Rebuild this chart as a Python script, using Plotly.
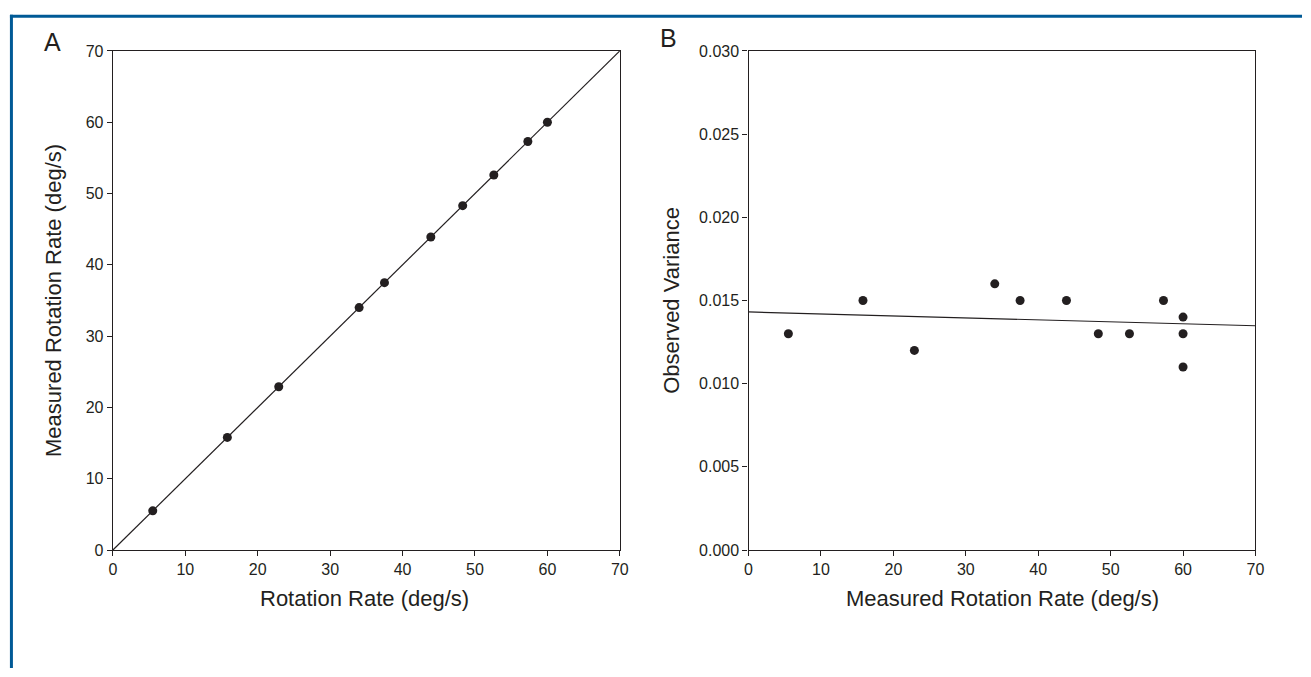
import plotly.graph_objects as go

W, H = 1311, 677

# Panel A data
rate_set = [5.5, 15.8, 22.9, 34.0, 37.5, 43.9, 48.3, 52.6, 57.3, 60.0]
rate_measured = [5.5, 15.8, 22.9, 34.0, 37.5, 43.9, 48.3, 52.6, 57.3, 60.0]
identity_x = [0, 70]
identity_y = [0, 70]

# Panel B data
meas_rate = [5.5, 15.8, 22.9, 34.0, 37.5, 43.9, 48.3, 52.6, 57.3, 60.0, 60.0, 60.0]
obs_var = [0.013, 0.015, 0.012, 0.016, 0.015, 0.015, 0.013, 0.013, 0.015, 0.014, 0.013, 0.011]
fit_x = [0, 70]
fit_y = [0.01431, 0.01348]

x_ticks = [0, 10, 20, 30, 40, 50, 60, 70]
yA_ticks = [0, 10, 20, 30, 40, 50, 60, 70]
yB_ticks = [0.000, 0.005, 0.010, 0.015, 0.020, 0.025, 0.030]

INK = "#231f20"
FONT = "Arial, Liberation Sans, Helvetica, sans-serif"

fig = go.Figure()
fig.add_trace(go.Scatter(x=identity_x, y=identity_y, mode="lines",
                         line=dict(color=INK, width=1.2), xaxis="x", yaxis="y",
                         showlegend=False, hoverinfo="skip"))
fig.add_trace(go.Scatter(x=rate_set, y=rate_measured, mode="markers",
                         marker=dict(color=INK, size=9), xaxis="x", yaxis="y",
                         showlegend=False))
fig.add_trace(go.Scatter(x=fit_x, y=fit_y, mode="lines",
                         line=dict(color=INK, width=1.2), xaxis="x2", yaxis="y2",
                         showlegend=False, hoverinfo="skip"))
fig.add_trace(go.Scatter(x=meas_rate, y=obs_var, mode="markers",
                         marker=dict(color=INK, size=9), xaxis="x2", yaxis="y2",
                         showlegend=False))

xa = (110 / W, 622 / W)
xb = (752 / W, 1264 / W)
yd = (1 - 556 / H, 1 - 44 / H)

axis_common = dict(showgrid=False, zeroline=False, showline=True, linecolor=INK,
                   linewidth=1.4, mirror=True, ticks="outside", ticklen=5,
                   tickwidth=1.2, tickcolor=INK,
                   tickfont=dict(family=FONT, size=16, color=INK))

fig.update_layout(
    width=W, height=H,
    margin=dict(l=0, r=0, t=0, b=0),
    paper_bgcolor="white", plot_bgcolor="white",
    font=dict(family=FONT, color=INK),
    xaxis=dict(domain=xa, range=[0, 70], tickvals=x_ticks, anchor="y", **axis_common),
    yaxis=dict(domain=yd, range=[0, 70], tickvals=yA_ticks, anchor="x", **axis_common),
    xaxis2=dict(domain=xb, range=[0, 70], tickvals=x_ticks, anchor="y2", **axis_common),
    yaxis2=dict(domain=yd, range=[0, 0.030], tickvals=yB_ticks, tickformat=".3f",
                anchor="x2", **axis_common),
)

def ann(text, x, y, size, angle=0):
    fig.add_annotation(text=text, x=x / W, y=1 - y / H, xref="paper", yref="paper",
                       showarrow=False, textangle=angle, xanchor="center",
                       yanchor="middle", font=dict(family=FONT, size=size, color=INK))

ann("Rotation Rate (deg/s)", 364, 606, 22)
ann("Measured Rotation Rate (deg/s)", 50, 300, 22, -90)
ann("Measured Rotation Rate (deg/s)", 1008, 606, 22)
ann("Observed Variance", 674, 300, 22, -90)
ann("A", 49, 35, 25)
ann("B", 671, 31, 25)

# Blue frame lines (left and top)
BLUE = "#005a96"
fig.add_shape(type="line", xref="paper", yref="paper",
              x0=7.5 / W, x1=7.5 / W, y0=0, y1=1 - 7 / H,
              line=dict(color=BLUE, width=3))
fig.add_shape(type="line", xref="paper", yref="paper",
              x0=6 / W, x1=1, y0=1 - 8.5 / H, y1=1 - 8.5 / H,
              line=dict(color=BLUE, width=3))

fig.write_html("out.html", config={"displayModeBar": False},
               post_script="document.body.style.margin='0';document.body.style.overflow='hidden';")
